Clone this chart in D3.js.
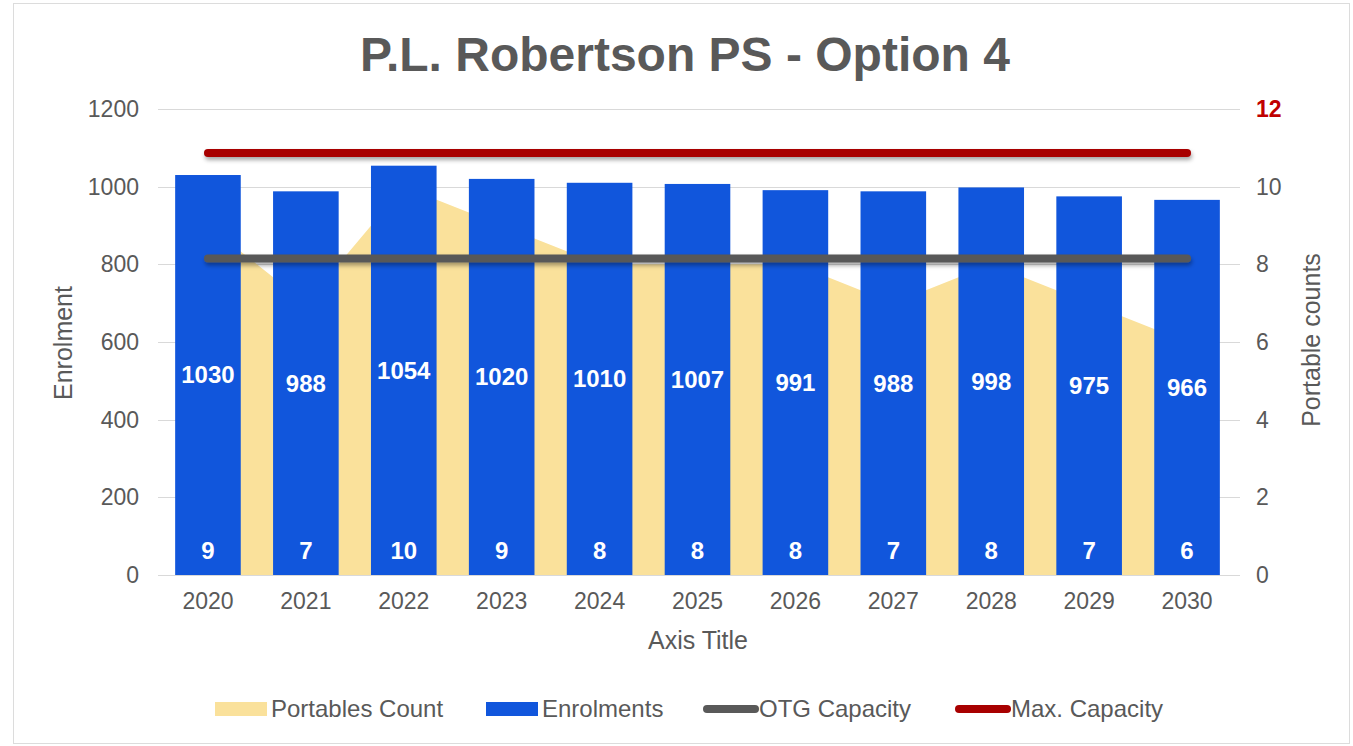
<!DOCTYPE html>
<html>
<head>
<meta charset="utf-8">
<script src="https://cdn.jsdelivr.net/npm/d3@7"></script>
<style>
  body { margin: 0; background: #fff; }
  svg { display: block; font-family: "Liberation Sans", Arial, sans-serif; }
</style>
</head>
<body>
<svg id="chart" width="1353" height="746"></svg>
<script>
  // chart data
  const years = ["2020", "2021", "2022", "2023", "2024", "2025", "2026", "2027", "2028", "2029", "2030"];
  const enrolments = [1030, 988, 1054, 1020, 1010, 1007, 991, 988, 998, 975, 966];
  const portables = [9, 7, 10, 9, 8, 8, 8, 7, 8, 7, 6];
  const otgCapacity = [815, 815, 815, 815, 815, 815, 815, 815, 815, 815, 815];
  const maxCapacity = [1087, 1087, 1087, 1087, 1087, 1087, 1087, 1087, 1087, 1087, 1087];
  const leftTicks = [0, 200, 400, 600, 800, 1000, 1200];
  const rightTicks = [0, 2, 4, 6, 8, 10, 12];

  const colors = {
    bar: "#1156dc",
    area: "#fae19b",
    otg: "#595959",
    max: "#a80000",
    text: "#595959",
    grid: "#d9d9d9"
  };

  const svg = d3.select("#chart");
  const margin = {top: 109, right: 117, bottom: 171, left: 159};
  const width = 1353 - margin.left - margin.right,
        height = 746 - margin.top - margin.bottom;

  // outer chart border
  svg.append("rect")
      .attr("x", 13.5).attr("y", 3.5)
      .attr("width", 1336).attr("height", 740)
      .attr("fill", "#fff")
      .attr("stroke", "#dcdcdc");

  // drop shadow for capacity lines (user space, the paths are flat)
  svg.append("defs").append("filter").attr("id", "shadow")
      .attr("filterUnits", "userSpaceOnUse")
      .attr("x", 0).attr("y", 0).attr("width", 1353).attr("height", 746)
    .append("feDropShadow")
      .attr("dx", 1).attr("dy", 3).attr("stdDeviation", 2)
      .attr("flood-color", "#000").attr("flood-opacity", 0.35);

  const g = svg.append("g").attr("transform", "translate(" + margin.left + "," + margin.top + ")");

  const x = d3.scaleBand()
      .domain(years)
      .range([0, width])
      .paddingInner(0.33)
      .paddingOuter(0.165);

  const y = d3.scaleLinear().domain([0, 1200]).range([height, 0]);
  const y2 = d3.scaleLinear().domain([0, 12]).range([height, 0]);
  const cx = d => x(d) + x.bandwidth() / 2;

  // gridlines
  g.append("g")
    .selectAll("line")
    .data(leftTicks)
    .enter().append("line")
      .attr("x1", -1).attr("x2", width + 4)
      .attr("y1", d => Math.round(y(d)) + 0.5)
      .attr("y2", d => Math.round(y(d)) + 0.5)
      .attr("stroke", colors.grid);

  // left axis
  const leftAxis = g.append("g")
      .attr("transform", "translate(-20,0)")
      .call(d3.axisLeft(y).tickValues(leftTicks).tickFormat(d3.format("d")).tickSize(0).tickPadding(0));
  leftAxis.select(".domain").remove();
  leftAxis.selectAll("text")
      .attr("fill", colors.text)
      .attr("font-size", 23);

  // right axis
  const rightAxis = g.append("g")
      .attr("transform", "translate(" + (width + 20) + ",0)")
      .call(d3.axisRight(y2).tickValues(rightTicks).tickSize(0).tickPadding(0));
  rightAxis.select(".domain").remove();
  rightAxis.selectAll("text")
      .attr("fill", d => d === 12 ? "#c00000" : colors.text)
      .attr("font-weight", d => d === 12 ? "bold" : null)
      .attr("font-size", 23);

  // portables area (right axis)
  const area = d3.area()
      .x((d, i) => cx(years[i]))
      .y0(height)
      .y1(d => y2(d));
  g.append("path")
      .datum(portables)
      .attr("fill", colors.area)
      .attr("d", area);

  // enrolment bars
  g.selectAll(".bar")
    .data(enrolments)
    .enter().append("rect")
      .attr("class", "bar")
      .attr("x", (d, i) => x(years[i]))
      .attr("y", d => y(d))
      .attr("width", x.bandwidth())
      .attr("height", d => height - y(d))
      .attr("fill", colors.bar);

  // capacity lines
  const line = d3.line().x((d, i) => cx(years[i])).y(d => y(d));
  [[otgCapacity, colors.otg], [maxCapacity, colors.max]].forEach(([data, c]) => {
    g.append("path")
        .datum(data)
        .attr("d", line)
        .attr("fill", "none")
        .attr("stroke", c)
        .attr("stroke-width", 8)
        .attr("stroke-linecap", "round")
        .attr("filter", "url(#shadow)");
  });

  // bar labels
  g.selectAll(".bar-label")
    .data(enrolments)
    .enter().append("text")
      .attr("class", "bar-label")
      .attr("x", (d, i) => cx(years[i]))
      .attr("y", d => (y(d) + height) / 2)
      .attr("dy", "0.35em")
      .attr("text-anchor", "middle")
      .attr("fill", "#fff")
      .attr("font-weight", "bold")
      .attr("font-size", 24)
      .text(d => d);

  // portables labels
  g.selectAll(".area-label")
    .data(portables)
    .enter().append("text")
      .attr("class", "area-label")
      .attr("x", (d, i) => cx(years[i]))
      .attr("y", height - 24)
      .attr("dy", "0.35em")
      .attr("text-anchor", "middle")
      .attr("fill", "#fff")
      .attr("font-weight", "bold")
      .attr("font-size", 24)
      .text(d => d);

  // x axis
  const xAxis = g.append("g")
      .attr("transform", "translate(0," + height + ")")
      .call(d3.axisBottom(x).tickSize(0).tickPadding(18));
  xAxis.select(".domain").remove();
  xAxis.selectAll("text")
      .attr("fill", colors.text)
      .attr("font-size", 23);

  // titles
  svg.append("text")
      .attr("x", 685).attr("y", 71)
      .attr("text-anchor", "middle")
      .attr("fill", colors.text)
      .attr("font-weight", "bold")
      .attr("font-size", 48)
      .text("P.L. Robertson PS - Option 4");

  svg.append("text")
      .attr("x", 698).attr("y", 649)
      .attr("text-anchor", "middle")
      .attr("fill", colors.text)
      .attr("font-size", 25)
      .text("Axis Title");

  svg.append("text")
      .attr("transform", "translate(72,343) rotate(-90)")
      .attr("text-anchor", "middle")
      .attr("fill", colors.text)
      .attr("font-size", 25)
      .text("Enrolment");

  svg.append("text")
      .attr("transform", "translate(1320,340) rotate(-90)")
      .attr("text-anchor", "middle")
      .attr("fill", colors.text)
      .attr("font-size", 25)
      .text("Portable counts");

  // legend
  const legendItems = [
    {label: "Portables Count", color: colors.area, type: "rect", x: 215},
    {label: "Enrolments", color: colors.bar, type: "rect", x: 486},
    {label: "OTG Capacity", color: colors.otg, type: "line", x: 703},
    {label: "Max. Capacity", color: colors.max, type: "line", x: 955}
  ];
  const legend = svg.append("g")
    .selectAll("g")
    .data(legendItems)
    .enter().append("g")
      .attr("transform", d => "translate(" + d.x + ",709)");
  legend.filter(d => d.type === "rect").append("rect")
      .attr("x", 0).attr("y", -7)
      .attr("width", 52).attr("height", 14)
      .attr("fill", d => d.color);
  legend.filter(d => d.type === "line").append("line")
      .attr("x1", 4).attr("x2", 52)
      .attr("stroke", d => d.color)
      .attr("stroke-width", 8)
      .attr("stroke-linecap", "round");
  legend.append("text")
      .attr("x", 56)
      .attr("dy", "0.35em")
      .attr("fill", colors.text)
      .attr("font-size", 24)
      .text(d => d.label);
</script>
</body>
</html>
